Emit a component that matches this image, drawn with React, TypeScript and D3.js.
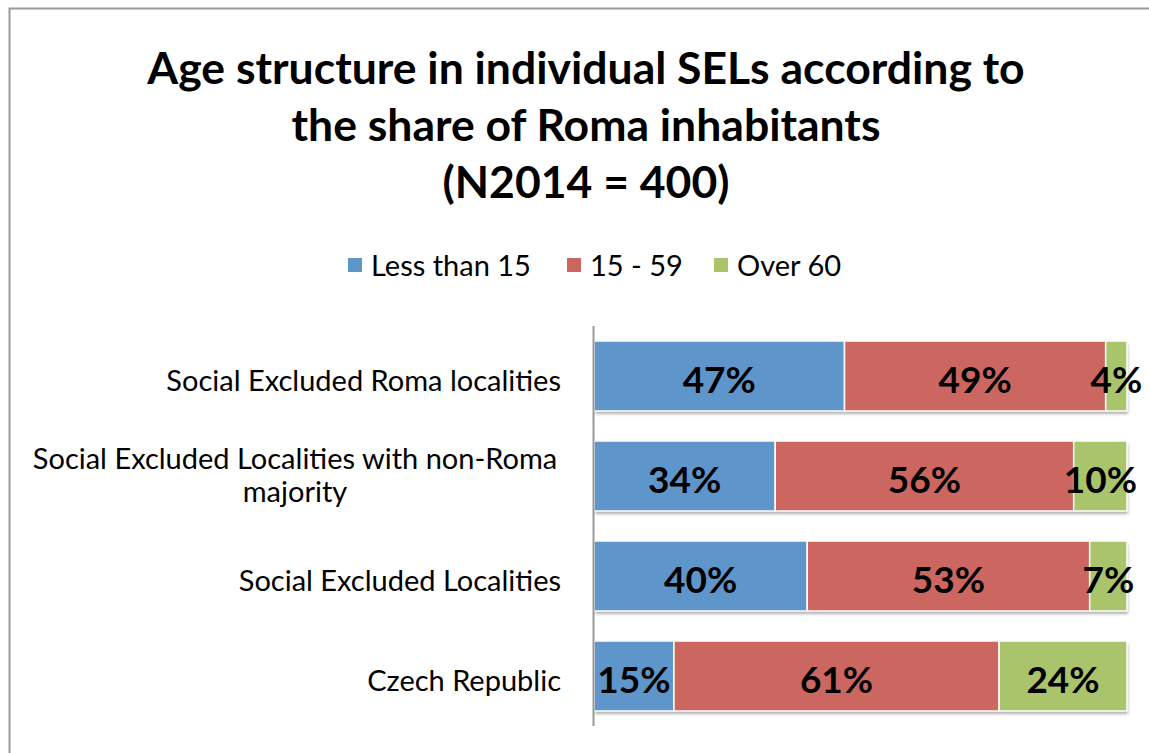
import React from "react";
import * as d3 from "d3";

const categories = [
  "Social Excluded Roma localities",
  "Social Excluded Localities with non-Roma majority",
  "Social Excluded Localities",
  "Czech Republic",
];
const categoryLines = [
  ["Social Excluded Roma localities"],
  ["Social Excluded Localities with non-Roma", "majority"],
  ["Social Excluded Localities"],
  ["Czech Republic"],
];
const seriesNames = ["Less than 15", "15 - 59", "Over 60"];
const lessThan15 = [47, 34, 40, 15];
const age15to59 = [49, 56, 53, 61];
const over60 = [4, 10, 7, 24];
const colors = ["#5E95CA", "#CC6661", "#AAC46C"];
const titleLines = [
  "Age structure in individual SELs according to",
  "the share of Roma inhabitants",
  "(N2014 = 400)",
];

const FONT = "Lato, 'Open Sans', sans-serif";

export default function App() {
  const W = 1149, H = 753;
  const x = d3.scaleLinear().domain([0, 100]).range([594, 1127]);
  const y = d3.scaleBand().domain(categories).range([326, 726]).paddingInner(0.3).paddingOuter(0.15);
  const series = [lessThan15, age15to59, over60];
  const rows = categories.map((c, i) => {
    let acc = 0;
    return series.map((s, k) => {
      const x0 = acc;
      acc += s[i];
      return { k, x0, x1: acc, v: s[i] };
    });
  });
  const legendItems = [
    { x: 348, label: seriesNames[0] },
    { x: 567, label: seriesNames[1] },
    { x: 714, label: seriesNames[2] },
  ];
  return (
    <svg width={W} height={H} style={{ position: "absolute", left: 0, top: 0 }}>
      <defs>
        <filter id="sh" x="-5%" y="-20%" width="110%" height="150%">
          <feDropShadow dx="1" dy="3" stdDeviation="1.5" floodColor="#000" floodOpacity="0.3" />
        </filter>
      </defs>
      <rect x={0} y={0} width={W} height={H} fill="#fff" />
      <path d={`M9.5,${H} V8.5 H${W}`} fill="none" stroke="#9a9a9a" strokeWidth={2} />
      {titleLines.map((t, i) => (
        <text key={i} x={586} y={84 + i * 57} textAnchor="middle" fontFamily={FONT} fontWeight="bold" fontSize={44.5} fill="#000">
          {t}
        </text>
      ))}
      {legendItems.map((d, i) => (
        <g key={i}>
          <rect x={d.x} y={258} width={14} height={14} fill={colors[i]} />
          <text x={d.x + 23} y={276} fontFamily={FONT} fontSize={29} fill="#000">{d.label}</text>
        </g>
      ))}
      {categories.map((c, i) => {
        const yy = y(c)!;
        const bh = y.bandwidth();
        const lines = categoryLines[i];
        const cy = yy + bh / 2;
        const multi = lines.length > 1;
        return (
          <g key={c}>
            <rect x={x(0)} y={yy} width={x(100) - x(0)} height={bh} fill="#fff" filter="url(#sh)" />
            {rows[i].map((s) => (
              <rect key={s.k} x={x(s.x0)} y={yy} width={x(s.x1) - x(s.x0)} height={bh} fill={colors[s.k]} stroke="#fff" strokeWidth={1.5} />
            ))}
            {rows[i].map((s) => (
              <text key={"t" + s.k} x={(x(s.x0) + x(s.x1)) / 2} y={cy + 17} textAnchor="middle" fontFamily={FONT} fontWeight="bold" fontSize={37} fill="#000">
                {s.v}%
              </text>
            ))}
            {lines.map((l, j) => (
              <text key={j} x={multi ? 295 : 561} y={cy + 14.5 - (multi ? 5.5 : 0) + (j - (lines.length - 1) / 2) * 33} textAnchor={multi ? "middle" : "end"} fontFamily={FONT} fontSize={29} fill="#000">
                {l}
              </text>
            ))}
          </g>
        );
      })}
      <line x1={593.5} x2={593.5} y1={326} y2={726} stroke="#9a9a9a" strokeWidth={2} />
    </svg>
  );
}
